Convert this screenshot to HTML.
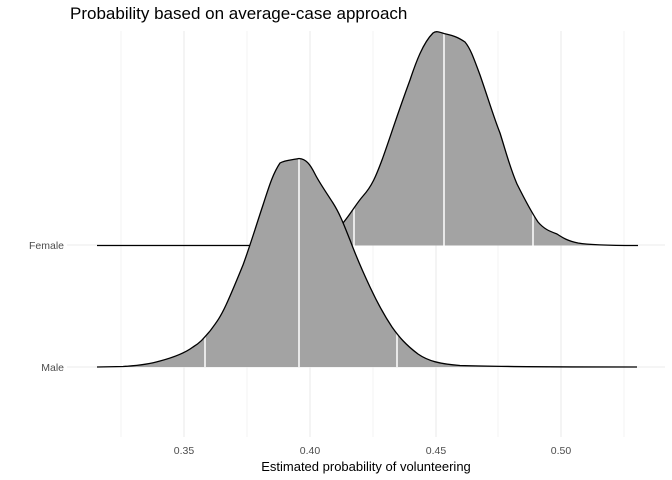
<!DOCTYPE html>
<html><head><style>body{margin:0;background:#fff}svg{display:block}text{font-family:"Liberation Sans",Arial,sans-serif}</style></head>
<body>
<svg width="672" height="480" viewBox="0 0 672 480" xmlns="http://www.w3.org/2000/svg">
<rect width="672" height="480" fill="#fff"/>
<g stroke="#ebebeb">
<g stroke-width="0.6">
<line x1="121" y1="31" x2="121" y2="437"/><line x1="247" y1="31" x2="247" y2="437"/><line x1="373" y1="31" x2="373" y2="437"/><line x1="498" y1="31" x2="498" y2="437"/><line x1="624" y1="31" x2="624" y2="437"/>
</g>
<g stroke-width="1.1">
<line x1="184" y1="31" x2="184" y2="437"/><line x1="310" y1="31" x2="310" y2="437"/><line x1="436" y1="31" x2="436" y2="437"/><line x1="561" y1="31" x2="561" y2="437"/>
<line x1="67" y1="245" x2="665" y2="245"/><line x1="67" y1="367" x2="665" y2="367"/>
</g></g>
<defs>
<clipPath id="cf"><path id="pf" d="M97,245.5 L290,245.5 C310,245 330,236 343,223 C352,212 356,204 363,196 C372,186 376,176 382,160 C390,138 396,118 410,80 C416,62 423,43 433,33 C437,30 441,33 446,34 C455,36 459,38 465,42 C470,48 473,56 480,75 C488,98 494,118 500,133 C506,152 510,168 517,184 C524,198 530,210 538,222 C544,229 549,231 557,234 C563,238 568,241 578,243 C590,245 610,245.5 638,245.5 Z"/></clipPath>
<clipPath id="cm"><path id="pm" d="M97,367 L123,366.5 C140,365.5 150,364 160,361 C175,357 185,353 193,347 C200,343 204,338 210,331 C216,323 220,318 226,305 C232,292 236,282 243,265 C250,246 256,226 263,205 C268,190 272,175 280,163 C285,160 292,160 299,158.5 C306,159 310,164 315,174 C319,182 324,189 333,203 C340,214 344,225 350,240 C356,256 362,270 370,287 C377,302 384,315 392,327 C399,337 406,345 418,354 C428,361 440,364 460,365.5 C490,366.5 560,367 637,367 Z"/></clipPath>
</defs>
<use href="#pf" fill="#a3a3a3"/>
<g clip-path="url(#cf)" stroke="#fff" stroke-width="1.5"><line x1="354" y1="20" x2="354" y2="246"/><line x1="444" y1="20" x2="444" y2="246"/><line x1="533" y1="20" x2="533" y2="246"/></g>
<path d="M97,245.5 L290,245.5 C310,245 330,236 343,223 C352,212 356,204 363,196 C372,186 376,176 382,160 C390,138 396,118 410,80 C416,62 423,43 433,33 C437,30 441,33 446,34 C455,36 459,38 465,42 C470,48 473,56 480,75 C488,98 494,118 500,133 C506,152 510,168 517,184 C524,198 530,210 538,222 C544,229 549,231 557,234 C563,238 568,241 578,243 C590,245 610,245.5 638,245.5" fill="none" stroke="#000" stroke-width="1.3"/>
<use href="#pm" fill="#a3a3a3"/>
<g clip-path="url(#cm)" stroke="#fff" stroke-width="1.5"><line x1="205" y1="140" x2="205" y2="368"/><line x1="299" y1="140" x2="299" y2="368"/><line x1="397" y1="140" x2="397" y2="368"/></g>
<path d="M97,367 L123,366.5 C140,365.5 150,364 160,361 C175,357 185,353 193,347 C200,343 204,338 210,331 C216,323 220,318 226,305 C232,292 236,282 243,265 C250,246 256,226 263,205 C268,190 272,175 280,163 C285,160 292,160 299,158.5 C306,159 310,164 315,174 C319,182 324,189 333,203 C340,214 344,225 350,240 C356,256 362,270 370,287 C377,302 384,315 392,327 C399,337 406,345 418,354 C428,361 440,364 460,365.5 C490,366.5 560,367 637,367" fill="none" stroke="#000" stroke-width="1.3"/>
<g font-size="10.5" fill="#4d4d4d">
<text x="64" y="249" text-anchor="end">Female</text>
<text x="64" y="371" text-anchor="end">Male</text>
<text x="184" y="454" text-anchor="middle">0.35</text>
<text x="310" y="454" text-anchor="middle">0.40</text>
<text x="436" y="454" text-anchor="middle">0.45</text>
<text x="561" y="454" text-anchor="middle">0.50</text>
</g>
<text x="366" y="471" text-anchor="middle" font-size="13" fill="#000">Estimated probability of volunteering</text>
<text x="70" y="19" font-size="17" fill="#000">Probability based on average-case approach</text>
</svg>
</body></html>
